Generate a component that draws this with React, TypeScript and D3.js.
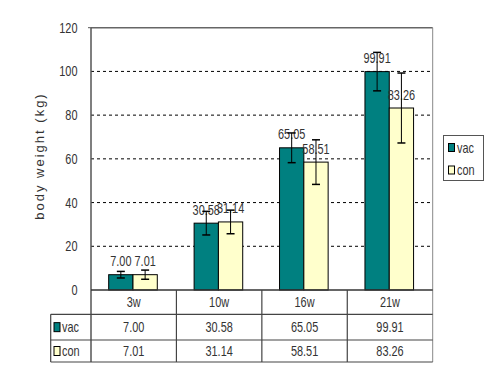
import React from "react";
import * as d3 from "d3";

const categories = ["3w", "10w", "16w", "21w"];
const seriesNames = ["vac", "con"];
const vacValues = [7.0, 30.58, 65.05, 99.91];
const conValues = [7.01, 31.14, 58.51, 83.26];
const vacErrors = [1.5, 5.4, 6.8, 8.8];
const conErrors = [2.1, 5.4, 10.2, 16.0];
const vacLabels = ["7.00", "30.58", "65.05", "99.91"];
const conLabels = ["7.01", "31.14", "58.51", "83.26"];
const yTicks = [0, 20, 40, 60, 80, 100, 120];
const seriesColors = ["#008080", "#FFFFCC"];

const FONT = "'Liberation Sans', Arial, sans-serif";

function NText({ x, y, children, anchor = "middle", size = 14, sx = 0.78, fill = "#333" }: any) {
  return (
    <text
      transform={`translate(${x},${y}) scale(${sx},1)`}
      textAnchor={anchor}
      fontSize={size}
      fontFamily={FONT}
      fill={fill}
    >
      {children}
    </text>
  );
}

export default function App() {
  const left = 91;
  const right = 432.7;
  const top = 27.7;
  const bottom = 290;
  const tableLeft = 50.7;
  const row1 = 314.3;
  const row2 = 340;
  const row3 = 362;

  const y = d3.scaleLinear().domain([0, 120]).range([bottom, top]);
  const x = d3.scaleBand<string>().domain(categories).range([left, right]);
  const bw = x.bandwidth();
  const x1 = d3.scaleBand<string>().domain(seriesNames).range([bw * 0.207, bw * 0.776]);
  const barW = x1.bandwidth();

  const series = [
    { name: "vac", values: vacValues, errors: vacErrors, labels: vacLabels },
    { name: "con", values: conValues, errors: conErrors, labels: conLabels },
  ];

  return (
    <svg width={500} height={379} style={{ position: "absolute", left: 0, top: 0, background: "#fff" }}>
      <rect x={0} y={0} width={500} height={379} fill="#fff" />
      {/* gridlines */}
      {yTicks.filter((t) => t > 0 && t < 120).map((t) => (
        <line key={t} x1={left} x2={right} y1={y(t)} y2={y(t)} stroke="#000" strokeDasharray="3,3" strokeWidth={1} />
      ))}
      {/* plot border */}
      <line x1={left} x2={right} y1={top} y2={top} stroke="#666" strokeWidth={1.5} />
      <line x1={right} x2={right} y1={top} y2={row3} stroke="#888" strokeWidth={1} />
      {/* tick labels */}
      {yTicks.map((t) => (
        <NText key={t} x={77.5} y={y(t) + 5} anchor="end">{t}</NText>
      ))}
      <line x1={left - 3} x2={left} y1={top} y2={top} stroke="#555" />
      {/* y title */}
      <text
        transform={`translate(44,156) rotate(-90)`}
        textAnchor="middle"
        fontSize={13}
        fontFamily={FONT}
        letterSpacing={2}
        fill="#333"
      >
        body weight (kg)
      </text>
      {/* bars */}
      {series.map((s, si) =>
        categories.map((c, ci) => {
          const bx = (x(c) as number) + (x1(s.name) as number);
          const v = s.values[ci];
          const e = s.errors[ci];
          const cx = bx + barW / 2;
          return (
            <g key={s.name + c}>
              <rect x={bx} y={y(v)} width={barW} height={bottom - y(v)} fill={seriesColors[si]} stroke="#000" strokeWidth={1} />
              <NText x={cx} y={y(v) - 8.5}>{s.labels[ci]}</NText>
              <line x1={cx} x2={cx} y1={y(v + e)} y2={y(v - e)} stroke="#000" strokeWidth={1} />
              <line x1={cx - 4} x2={cx + 4} y1={y(v + e)} y2={y(v + e)} stroke="#000" strokeWidth={1.5} />
              <line x1={cx - 4} x2={cx + 4} y1={y(v - e)} y2={y(v - e)} stroke="#000" strokeWidth={1.5} />
            </g>
          );
        })
      )}
      {/* axis line */}
      <line x1={left} x2={left} y1={top} y2={row3} stroke="#555" strokeWidth={1.5} />
      <line x1={left} x2={right} y1={bottom} y2={bottom} stroke="#333" strokeWidth={1.5} />
      {/* table */}
      {[row1, row2, row3].map((ry) => (
        <line key={ry} x1={tableLeft} x2={right} y1={ry} y2={ry} stroke="#444" strokeWidth={1.2} />
      ))}
      <line x1={tableLeft} x2={tableLeft} y1={row1} y2={row3} stroke="#444" strokeWidth={1.2} />
      {categories.slice(1).map((c) => (
        <line key={c} x1={x(c) as number} x2={x(c) as number} y1={bottom} y2={row3} stroke="#444" strokeWidth={1.2} />
      ))}
      {categories.map((c, ci) => {
        const cx = (x(c) as number) + bw / 2;
        return (
          <g key={"t" + c}>
            <NText x={cx} y={(bottom + row1) / 2 + 5}>{c}</NText>
            <NText x={cx} y={(row1 + row2) / 2 + 5}>{vacLabels[ci]}</NText>
            <NText x={cx} y={(row2 + row3) / 2 + 5}>{conLabels[ci]}</NText>
          </g>
        );
      })}
      {series.map((s, si) => {
        const cy = si === 0 ? (row1 + row2) / 2 : (row2 + row3) / 2;
        return (
          <g key={"tl" + s.name}>
            <rect x={54} y={cy - 4.5} width={6} height={9} fill={seriesColors[si]} stroke="#000" strokeWidth={1} />
            <NText x={62} y={cy + 5} anchor="start">{s.name}</NText>
          </g>
        );
      })}
      {/* legend */}
      <rect x={443.5} y={135.5} width={40} height={45} fill="#fff" stroke="#555" strokeWidth={1} />
      {series.map((s, si) => {
        const cy = 147.5 + si * 22.5;
        return (
          <g key={"lg" + s.name}>
            <rect x={448.5} y={cy - 4} width={6} height={8} fill={seriesColors[si]} stroke="#000" strokeWidth={1} />
            <NText x={457} y={cy + 5} anchor="start">{s.name}</NText>
          </g>
        );
      })}
    </svg>
  );
}
